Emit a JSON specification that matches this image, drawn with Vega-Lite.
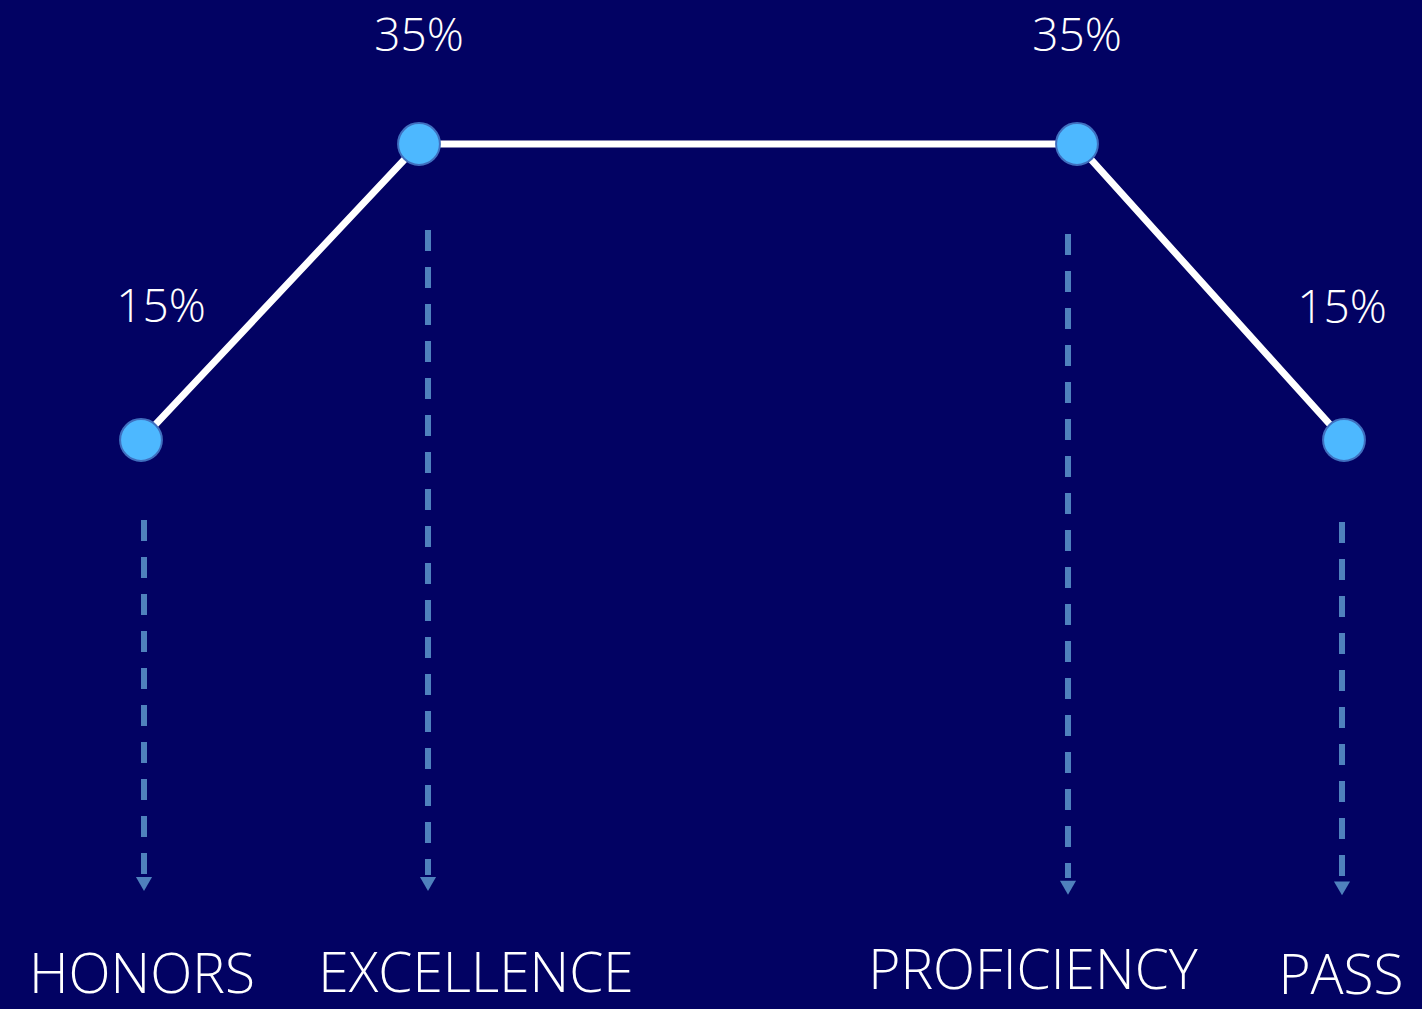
{
  "$schema": "https://vega.github.io/schema/vega-lite/v6.json",
  "autosize": {"type": "fit", "contains": "padding"},
  "width": 1422,
  "height": 1009,
  "padding": 0,
  "background": "#020263",
  "config": {"view": {"stroke": null}},
  "data": {"values": [
    {"rank": 1, "grade": "HONORS", "value": 15, "label": "15%"},
    {"rank": 2, "grade": "EXCELLENCE", "value": 35, "label": "35%"},
    {"rank": 3, "grade": "PROFICIENCY", "value": 35, "label": "35%"},
    {"rank": 4, "grade": "PASS", "value": 15, "label": "15%"}
  ]},
  "encoding": {
    "x": {"field": "rank", "type": "quantitative", "axis": null,
          "scale": {"domain": [1, 2, 3, 4], "range": [141, 419, 1077, 1344]}}
  },
  "layer": [
    {
      "transform": [{"filter": "datum.rank == 1"}],
      "mark": {"type": "rule", "color": "#4F81BD", "strokeWidth": 6, "strokeDash": [21, 16], "yOffset": 80, "y2Offset": 0, "xOffset": 3},
      "encoding": {
        "y": {"field": "value", "type": "quantitative", "axis": null,
              "scale": {"domain": [-23.45, 44.73], "nice": false, "zero": false}},
        "y2": {"datum": -14.4}
      }
    },
    {
      "transform": [{"filter": "datum.rank == 4"}],
      "mark": {"type": "rule", "color": "#4F81BD", "strokeWidth": 6, "strokeDash": [21, 16], "yOffset": 82, "y2Offset": 0, "xOffset": -2},
      "encoding": {"y": {"field": "value", "type": "quantitative"}, "y2": {"datum": -14.6}}
    },
    {
      "transform": [{"filter": "datum.rank == 2"}],
      "mark": {"type": "rule", "color": "#4F81BD", "strokeWidth": 6, "strokeDash": [21, 16], "yOffset": 86, "y2Offset": 0, "xOffset": 9},
      "encoding": {"y": {"field": "value", "type": "quantitative"}, "y2": {"datum": -14.4}}
    },
    {
      "transform": [{"filter": "datum.rank == 3"}],
      "mark": {"type": "rule", "color": "#4F81BD", "strokeWidth": 6, "strokeDash": [21, 16], "yOffset": 90, "y2Offset": 0, "xOffset": -9},
      "encoding": {"y": {"field": "value", "type": "quantitative"}, "y2": {"datum": -14.6}}
    },
    {
      "transform": [{"filter": "datum.rank == 1"}],
      "mark": {"type": "point", "shape": "triangle-down", "filled": true, "color": "#4F81BD", "size": 260, "opacity": 1, "xOffset": 3},
      "encoding": {"y": {"datum": -15.0}}
    },
    {
      "transform": [{"filter": "datum.rank == 4"}],
      "mark": {"type": "point", "shape": "triangle-down", "filled": true, "color": "#4F81BD", "size": 260, "opacity": 1, "xOffset": -2},
      "encoding": {"y": {"datum": -15.3}}
    },
    {
      "transform": [{"filter": "datum.rank == 2"}],
      "mark": {"type": "point", "shape": "triangle-down", "filled": true, "color": "#4F81BD", "size": 260, "opacity": 1, "xOffset": 9},
      "encoding": {"y": {"datum": -15.0}}
    },
    {
      "transform": [{"filter": "datum.rank == 3"}],
      "mark": {"type": "point", "shape": "triangle-down", "filled": true, "color": "#4F81BD", "size": 260, "opacity": 1, "xOffset": -9},
      "encoding": {"y": {"datum": -15.25}}
    },
    {
      "mark": {"type": "line", "color": "#FFFFFF", "strokeWidth": 7},
      "encoding": {"y": {"field": "value", "type": "quantitative"}}
    },
    {
      "mark": {"type": "point", "filled": true, "fill": "#4DB8FF", "stroke": "#3F6FBF", "strokeWidth": 2, "size": 1750, "opacity": 1},
      "encoding": {"y": {"field": "value", "type": "quantitative"}}
    },
    {
      "transform": [{"filter": "datum.value == 35"}],
      "mark": {"type": "text", "color": "#FFFFFF", "font": "Open Sans", "fontWeight": 300, "fontSize": 46, "baseline": "middle", "align": "center", "dy": -107},
      "encoding": {"y": {"field": "value", "type": "quantitative"}, "text": {"field": "label"}}
    },
    {
      "transform": [{"filter": "datum.rank == 1"}],
      "mark": {"type": "text", "color": "#FFFFFF", "font": "Open Sans", "fontWeight": 300, "fontSize": 46, "baseline": "middle", "align": "center", "dy": -132, "dx": 20},
      "encoding": {"y": {"field": "value", "type": "quantitative"}, "text": {"field": "label"}}
    },
    {
      "transform": [{"filter": "datum.rank == 4"}],
      "mark": {"type": "text", "color": "#FFFFFF", "font": "Open Sans", "fontWeight": 300, "fontSize": 46, "baseline": "middle", "align": "center", "dy": -131, "dx": -2},
      "encoding": {"y": {"field": "value", "type": "quantitative"}, "text": {"field": "label"}}
    },
    {
      "transform": [{"filter": "datum.rank == 1"}],
      "mark": {"type": "text", "color": "#FFFFFF", "font": "Open Sans", "fontWeight": 300, "fontSize": 55, "baseline": "alphabetic", "align": "center", "dx": 1, "dy": -5},
      "encoding": {"y": {"datum": -22.7}, "text": {"field": "grade"}}
    },
    {
      "transform": [{"filter": "datum.rank == 2"}],
      "mark": {"type": "text", "color": "#FFFFFF", "font": "Open Sans", "fontWeight": 300, "fontSize": 55, "baseline": "alphabetic", "align": "center", "dx": 57, "dy": -6},
      "encoding": {"y": {"datum": -22.7}, "text": {"field": "grade"}}
    },
    {
      "transform": [{"filter": "datum.rank == 3"}],
      "mark": {"type": "text", "color": "#FFFFFF", "font": "Open Sans", "fontWeight": 300, "fontSize": 55, "baseline": "alphabetic", "align": "center", "dx": -44, "dy": -9},
      "encoding": {"y": {"datum": -22.7}, "text": {"field": "grade"}}
    },
    {
      "transform": [{"filter": "datum.rank == 4"}],
      "mark": {"type": "text", "color": "#FFFFFF", "font": "Open Sans", "fontWeight": 300, "fontSize": 55, "baseline": "alphabetic", "align": "center", "dx": -3, "dy": -4},
      "encoding": {"y": {"datum": -22.7}, "text": {"field": "grade"}}
    }
  ]
}
